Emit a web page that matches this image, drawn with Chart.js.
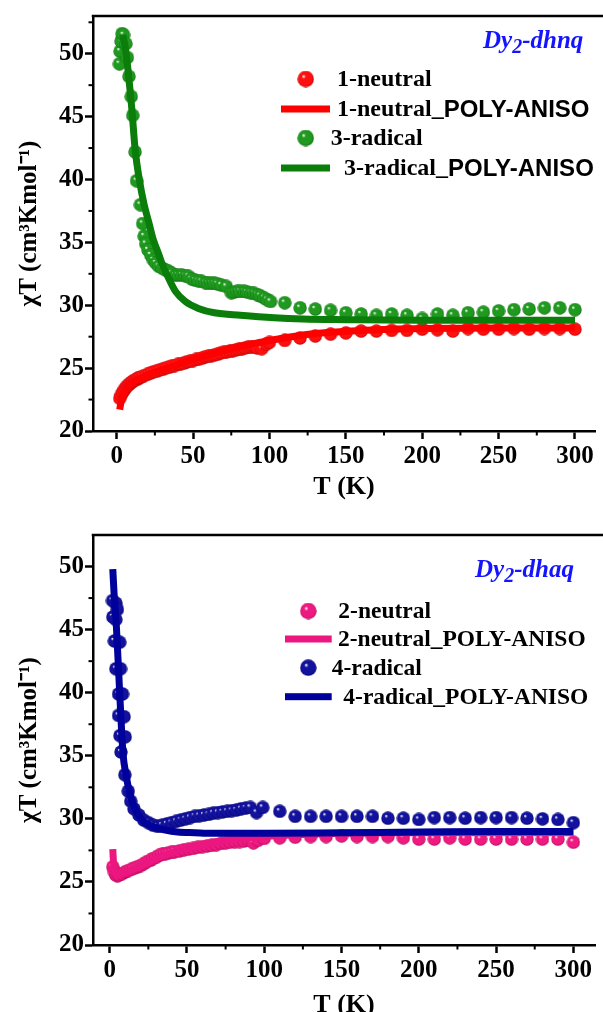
<!DOCTYPE html>
<html lang="en">
<head>
<meta charset="UTF-8">
<title>χT vs T — Dy2-dhnq / Dy2-dhaq</title>
<script src="https://cdn.jsdelivr.net/npm/chart.js"></script>
<style>
  html, body { margin: 0; padding: 0; background: #fff; overflow: hidden; }
  body { width: 603px; height: 1012px; position: relative; }
  canvas { position: absolute; left: 0; }
  #topChart { top: 0; }
  #bottomChart { top: 506px; }
</style>
</head>
<body>
<canvas id="topChart" width="603" height="506"></canvas>
<canvas id="bottomChart" width="603" height="520"></canvas>
<script>
// tick labels (both panels)
const xTicks = [0, 50, 100, 150, 200, 250, 300];
const yTicks = [20, 25, 30, 35, 40, 45, 50];

// ---- Dy2-dhnq ----
// 1-neutral, measured
const tNeutral1 = [2, 3, 4, 5, 6, 7, 8, 9, 10, 11, 12, 13, 14, 15, 16, 18, 20, 22, 24, 26, 28, 30,
  32, 34, 36, 38, 40, 42, 44, 46, 48, 50, 52, 54, 56, 58, 60, 62, 64, 66, 68, 70, 72, 74, 76, 78,
  80, 82, 84, 86, 88, 90, 92, 95, 98, 100, 110, 120, 130, 140, 150, 160, 170, 180, 190, 200, 210,
  220, 230, 240, 250, 260, 270, 280, 290, 300];
const chiNeutral1 = [22.6, 22.9, 23.1, 23.3, 23.45, 23.6, 23.7, 23.8, 23.9, 24.0, 24.05, 24.1, 24.2,
  24.25, 24.3, 24.4, 24.5, 24.6, 24.7, 24.75, 24.85, 24.9, 25.0, 25.05, 25.15, 25.2, 25.3, 25.35,
  25.4, 25.5, 25.55, 25.6, 25.7, 25.75, 25.8, 25.9, 25.95, 26.0, 26.05, 26.1, 26.2, 26.25, 26.3,
  26.35, 26.4, 26.45, 26.5, 26.55, 26.6, 26.65, 26.7, 26.7, 26.6, 26.55, 26.9, 27.05, 27.2, 27.4,
  27.55, 27.7, 27.8, 27.95, 27.95, 28.0, 28.0, 28.1, 28.05, 27.95, 28.15, 28.1, 28.1, 28.15, 28.1,
  28.15, 28.15, 28.1];
// 1-neutral, POLY-ANISO
const tNeutral1Fit = [2, 3, 4, 6, 8, 10, 15, 20, 30, 40, 50, 60, 70, 80, 90, 100, 120, 140, 160, 180, 200, 250, 300];
const chiNeutral1Fit = [21.7, 22.4, 22.8, 23.3, 23.6, 23.85, 24.15, 24.45, 24.9, 25.3, 25.7, 26.05,
  26.4, 26.7, 26.95, 27.2, 27.6, 27.85, 28.0, 28.1, 28.15, 28.2, 28.2];
// 3-radical, measured
const tRadical3 = [1.8, 2.2, 2.8, 3.5, 4.5, 6, 7, 8, 9.5, 10.5, 12, 13, 15.5, 17, 18, 19, 20.5,
  22.3, 24, 25.6, 27.5, 29.8, 32, 34, 36, 38.4, 40.5, 42.7, 45, 47, 49, 51.3, 53.5, 55.6, 58, 60,
  62, 64, 66, 68.5, 71.7, 75, 77, 79, 81, 83.5, 85.5, 87.8, 90, 92, 94, 96.4, 98.5, 100.7, 110, 120,
  130, 140, 150, 160, 170, 180, 190, 200, 210, 220, 230, 240, 250, 260, 270, 280, 290, 300];
const chiRadical3 = [49.2, 50.2, 51.0, 51.6, 51.5, 50.8, 49.7, 48.2, 46.6, 45.1, 42.2, 39.9, 38.0,
  36.5, 35.5, 34.9, 34.4, 34.0, 33.6, 33.35, 33.1, 32.95, 32.8, 32.7, 32.55, 32.4, 32.4, 32.4,
  32.35, 32.3, 32.1, 32.0, 31.95, 31.9, 31.8, 31.75, 31.75, 31.75, 31.7, 31.6, 31.5, 31.0, 31.05,
  31.1, 31.1, 31.1, 31.05, 31.0, 30.95, 30.85, 30.75, 30.6, 30.45, 30.3, 30.2, 29.8, 29.7, 29.6,
  29.4, 29.3, 29.2, 29.3, 29.2, 28.95, 29.3, 29.2, 29.4, 29.45, 29.55, 29.65, 29.7, 29.8, 29.8, 29.65];
// 3-radical, POLY-ANISO
const tRadical3Fit = [4, 6, 8, 10, 12, 14.8, 18, 21, 24, 27.7, 30, 33, 38.5, 45, 53.5, 64, 81, 103, 122, 150, 200, 300];
const chiRadical3Fit = [51.5, 50.2, 48.0, 45.5, 42.5, 40.0, 38.0, 36.6, 35.2, 34.0, 33.2, 32.4,
  31.1, 30.3, 29.75, 29.4, 29.2, 29.0, 28.9, 28.85, 28.8, 28.8];

// ---- Dy2-dhaq ----
// 2-neutral, measured
const tNeutral2 = [2, 3, 4, 5, 6, 8, 10, 12, 14, 16, 18, 20, 22, 24, 26, 28, 30, 32, 34, 36, 38, 40,
  42, 45, 48, 51, 54, 57, 60, 63, 66, 69, 72, 75, 78, 81, 84, 87, 90, 93, 96, 100, 110, 120, 130,
  140, 150, 160, 170, 180, 190, 200, 210, 220, 230, 240, 250, 260, 270, 280, 290, 300];
const chiNeutral2 = [26.2, 25.8, 25.55, 25.5, 25.55, 25.65, 25.8, 25.9, 26.0, 26.1, 26.2, 26.3,
  26.45, 26.6, 26.7, 26.85, 26.95, 27.1, 27.2, 27.25, 27.3, 27.35, 27.4, 27.45, 27.55, 27.6, 27.65,
  27.75, 27.8, 27.85, 27.9, 27.95, 28.05, 28.1, 28.15, 28.2, 28.2, 28.25, 28.3, 28.1, 28.3, 28.45,
  28.5, 28.55, 28.6, 28.6, 28.65, 28.6, 28.6, 28.6, 28.5, 28.4, 28.4, 28.5, 28.4, 28.4, 28.4, 28.4,
  28.4, 28.4, 28.4, 28.15];
// 2-neutral, POLY-ANISO
const tNeutral2Fit = [2, 2.6, 3.5, 5, 8, 12, 16, 20, 25, 30, 40, 50, 60, 75, 90, 100, 125, 150, 200, 250, 300];
const chiNeutral2Fit = [27.6, 26.3, 25.7, 25.55, 25.65, 25.85, 26.05, 26.25, 26.55, 26.85, 27.3,
  27.65, 27.95, 28.3, 28.5, 28.6, 28.75, 28.85, 28.9, 28.9, 28.9];
// 4-radical, measured
const tRadical4 = [1.8, 4, 5, 2, 4, 3, 6.5, 4, 7, 5.7, 8.3, 5.7, 9.3, 6.6, 10, 7.3, 9.8, 12, 13.6,
  15.7, 18.9, 22, 25, 28, 31, 34, 37, 40, 43, 46, 49, 52, 55, 58, 61, 64, 67, 70, 73, 76, 79, 82,
  85, 88, 91, 95, 99, 110, 120, 130, 140, 150, 160, 170, 180, 190, 200, 210, 220, 230, 240, 250,
  260, 270, 280, 290, 300];
const chiRadical4 = [47.3, 47.1, 46.6, 46.0, 45.8, 44.1, 44.0, 41.9, 41.9, 39.9, 39.9, 38.2, 38.1,
  36.6, 36.5, 35.3, 33.5, 32.2, 31.4, 30.8, 30.3, 29.9, 29.7, 29.5, 29.4, 29.5, 29.6, 29.7, 29.8,
  29.9, 30.0, 30.1, 30.2, 30.25, 30.3, 30.35, 30.45, 30.5, 30.55, 30.6, 30.65, 30.7, 30.8, 30.85,
  30.9, 30.5, 30.9, 30.6, 30.2, 30.2, 30.2, 30.2, 30.2, 30.2, 30.05, 30.05, 29.95, 30.1, 30.1,
  30.05, 30.1, 30.1, 30.1, 30.05, 30.0, 29.95, 29.7];
// 4-radical, POLY-ANISO
const tRadical4Fit = [2, 3, 4.4, 6.5, 8.6, 10.7, 13, 15, 18, 21, 25, 30, 36, 44, 55, 66, 100, 150, 200, 250, 300];
const chiRadical4Fit = [49.8, 47.5, 45.1, 39.9, 35.2, 33.4, 32.0, 31.2, 30.4, 29.9, 29.55, 29.3,
  29.1, 28.95, 28.9, 28.85, 28.85, 28.9, 28.95, 29.0, 29.0];

const serif = '"Liberation Serif", "Times New Roman", serif';
const sans = '"Liberation Sans", Arial, sans-serif';

function pairs(xs, ys) {
  return xs.map((x, i) => ({ x: x, y: ys[i] }));
}

// shaded ball marker, used as the point style
function ball(d, base, rim) {
  const c = document.createElement('canvas');
  c.width = d; c.height = d;
  const g = c.getContext('2d');
  const r = d / 2;
  const grad = g.createRadialGradient(r * 0.72, r * 0.66, 0.3, r, r, r);
  grad.addColorStop(0, '#ffffff');
  grad.addColorStop(0.22, base);
  grad.addColorStop(0.8, base);
  grad.addColorStop(1, rim);
  g.fillStyle = grad;
  g.beginPath();
  g.arc(r, r, r - 0.3, 0, Math.PI * 2);
  g.fill();
  return c;
}

const colors = {
  red:   { line: '#ff0000', base: '#ff1010', rim: '#b00000' },
  green: { line: '#0a7d0a', base: '#1f9a1f', rim: '#0a5e0a' },
  pink:  { line: '#ec1680', base: '#ee1a82', rim: '#a8004e' },
  navy:  { line: '#00009a', base: '#12129e', rim: '#000060' }
};

function pointSet(label, xs, ys, c, order) {
  return {
    label: label, data: pairs(xs, ys), showLine: false,
    pointStyle: ball(14, c.base, c.rim), pointRadius: 7,
    ballKey: c, order: order
  };
}
function fitSet(label, xs, ys, c, order) {
  return {
    label: label, data: pairs(xs, ys), showLine: true, pointRadius: 0,
    borderColor: c.line, backgroundColor: c.line, borderWidth: 7,
    cubicInterpolationMode: 'monotone', ballKey: c, order: order
  };
}

// minor ticks and the top frame line
const framePlugin = {
  id: 'frame',
  afterDraw(chart) {
    const ctx = chart.ctx;
    const a = chart.chartArea;
    ctx.save();
    ctx.strokeStyle = '#000';
    ctx.lineWidth = 2.5;
    ctx.beginPath();
    ctx.moveTo(a.left - 1.25, a.top);
    ctx.lineTo(chart.width, a.top);
    ctx.stroke();
    ctx.lineWidth = 2;
    const xs = chart.scales.x, ys = chart.scales.y;
    for (let i = 0; i < xTicks.length; i++) {
      const v = i < xTicks.length - 1 ? (xTicks[i] + xTicks[i + 1]) / 2 : xTicks[i] + 25;
      if (v > xs.max) continue;
      const px = xs.getPixelForValue(v);
      ctx.beginPath(); ctx.moveTo(px, a.bottom); ctx.lineTo(px, a.bottom + 4.5); ctx.stroke();
    }
    for (let i = 0; i < yTicks.length; i++) {
      const v = i < yTicks.length - 1 ? (yTicks[i] + yTicks[i + 1]) / 2 : yTicks[i] + 2.5;
      if (v > ys.max - 0.1) continue;
      const py = ys.getPixelForValue(v);
      ctx.beginPath(); ctx.moveTo(a.left - 4.5, py); ctx.lineTo(a.left, py); ctx.stroke();
    }
    ctx.restore();
  }
};

// in-plot legend with sample tag
const panelLegend = {
  id: 'panelLegend',
  afterDraw(chart, args, opts) {
    const ctx = chart.ctx;
    ctx.save();
    ctx.fillStyle = '#1414ff';
    ctx.textBaseline = 'alphabetic';
    ctx.textAlign = 'left';
    let x = opts.tagX;
    const big = 'italic bold 25px ' + serif, small = 'italic bold 20px ' + serif;
    ctx.font = big; ctx.fillText(opts.tag[0], x, opts.tagY); x += ctx.measureText(opts.tag[0]).width;
    ctx.font = small; ctx.fillText(opts.tag[1], x, opts.tagY + 5); x += ctx.measureText(opts.tag[1]).width;
    ctx.font = big; ctx.fillText(opts.tag[2], x, opts.tagY);

    ctx.textBaseline = 'middle';
    opts.rows.forEach(row => {
      const ds = chart.data.datasets[row.index];
      const c = ds.ballKey;
      if (ds.showLine) {
        ctx.fillStyle = c.line;
        ctx.fillRect(opts.lineX0, row.y - 3.5, opts.lineX1 - opts.lineX0, 7);
      } else {
        const b = ball(17, c.base, c.rim);
        ctx.drawImage(b, opts.ballX - 8.5, row.y - 8.5);
      }
      ctx.fillStyle = '#000';
      const parts = ds.label.split('_');
      let tx = row.tx;
      ctx.font = 'bold ' + opts.size + 'px ' + serif;
      const head = parts.length > 1 ? parts[0] + '_' : parts[0];
      ctx.fillText(head, tx, row.y + 1);
      if (parts.length > 1) {
        tx += ctx.measureText(head).width;
        ctx.font = 'bold ' + opts.size + 'px ' + opts.tailFont;
        ctx.fillText(parts[1], tx, row.y + 1);
      }
    });
    ctx.restore();
  }
};

function axisOptions(cfg) {
  const tickFont = { family: serif, weight: 'bold', size: 25 };
  const titleFont = { family: serif, weight: 'bold', size: 26 };
  return {
    x: {
      type: 'linear', min: cfg.xMin, max: cfg.xMax,
      afterBuildTicks: s => { s.ticks = xTicks.map(v => ({ value: v })); },
      afterFit: s => { s.height = cfg.xBox; },
      grid: { drawOnChartArea: false, drawTicks: true, tickLength: 8, tickWidth: 2.5, tickColor: '#000' },
      border: { display: true, color: '#000', width: 2.5 },
      ticks: { font: tickFont, color: '#000', padding: 3, maxRotation: 0, autoSkip: false },
      title: { display: true, text: 'T (K)', font: titleFont, color: '#000', padding: { top: 0, bottom: cfg.xTitlePad } }
    },
    y: {
      type: 'linear', min: 20, max: cfg.yMax,
      afterBuildTicks: s => { s.ticks = yTicks.map(v => ({ value: v })); },
      afterFit: s => { s.width = 93; },
      grid: { drawOnChartArea: false, drawTicks: true, tickLength: 8, tickWidth: 2.5, tickColor: '#000' },
      border: { display: true, color: '#000', width: 2.5 },
      ticks: { font: tickFont, color: '#000', padding: 1, autoSkip: false },
      title: { display: true, text: 'χT (cm³Kmol⁻¹)', font: { family: serif, weight: 'bold', size: 25 }, color: '#000', padding: { top: 15, bottom: 0 } }
    }
  };
}

Chart.defaults.font.family = serif;

new Chart(document.getElementById('topChart'), {
  type: 'scatter',
  data: {
    datasets: [
      pointSet('1-neutral', tNeutral1, chiNeutral1, colors.red, 3),
      fitSet('1-neutral_POLY-ANISO', tNeutral1Fit, chiNeutral1Fit, colors.red, 1),
      pointSet('3-radical', tRadical3, chiRadical3, colors.green, 2),
      fitSet('3-radical_POLY-ANISO', tRadical3Fit, chiRadical3Fit, colors.green, 0)
    ]
  },
  options: {
    responsive: false, animation: false,
    layout: { padding: { top: 13, left: 0, right: 0, bottom: 0 } },
    scales: axisOptions({ xMin: -15.5, xMax: 313.1, yMax: 53, xBox: 75, xTitlePad: 3 }),
    plugins: {
      legend: { display: false }, tooltip: { enabled: false },
      panelLegend: {
        tag: ['Dy', '2', '-dhnq'], tagX: 483, tagY: 48,
        ballX: 305.7, lineX0: 281, lineX1: 330, size: 24, tailFont: sans,
        rows: [
          { index: 0, y: 79, tx: 337 },
          { index: 1, y: 109, tx: 337 },
          { index: 2, y: 138, tx: 330.7 },
          { index: 3, y: 168, tx: 344 }
        ]
      }
    }
  },
  plugins: [framePlugin, panelLegend]
});

new Chart(document.getElementById('bottomChart'), {
  type: 'scatter',
  data: {
    datasets: [
      pointSet('2-neutral', tNeutral2, chiNeutral2, colors.pink, 3),
      fitSet('2-neutral_POLY-ANISO', tNeutral2Fit, chiNeutral2Fit, colors.pink, 1),
      pointSet('4-radical', tRadical4, chiRadical4, colors.navy, 2),
      fitSet('4-radical_POLY-ANISO', tRadical4Fit, chiRadical4Fit, colors.navy, 0)
    ]
  },
  options: {
    responsive: false, animation: false,
    layout: { padding: { top: 29, left: 0, right: 0, bottom: 0 } },
    scales: axisOptions({ xMin: -10.8, xMax: 314, yMax: 52.5, xBox: 81, xTitlePad: 5 }),
    plugins: {
      legend: { display: false }, tooltip: { enabled: false },
      panelLegend: {
        tag: ['Dy', '2', '-dhaq'], tagX: 475, tagY: 70.7,
        ballX: 308.3, lineX0: 285, lineX1: 331.7, size: 23.5, tailFont: serif,
        rows: [
          { index: 0, y: 105, tx: 338.3 },
          { index: 1, y: 133, tx: 338 },
          { index: 2, y: 161.7, tx: 331.7 },
          { index: 3, y: 190.7, tx: 343.3 }
        ]
      }
    }
  },
  plugins: [framePlugin, panelLegend]
});
</script>
</body>
</html>
